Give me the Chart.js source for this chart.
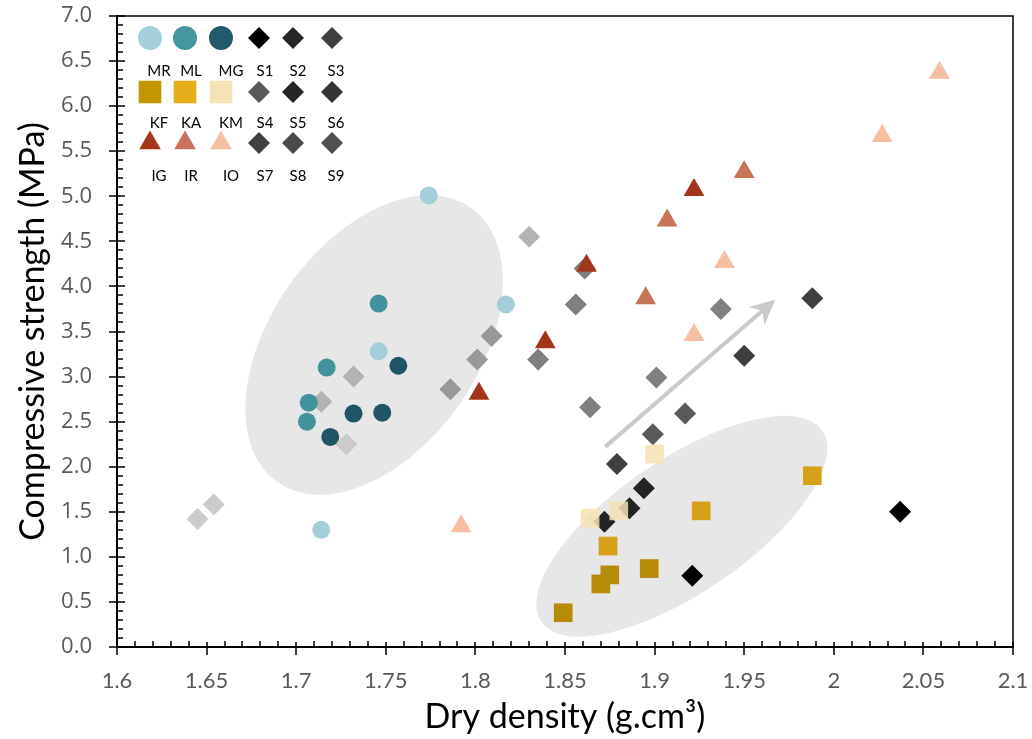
<!DOCTYPE html>
<html>
<head>
<meta charset="utf-8">
<script src="https://cdn.jsdelivr.net/npm/chart.js@4.4.0/dist/chart.umd.min.js"></script>
<style>
  html, body { margin: 0; padding: 0; background: #fff; }
  #wrap { width: 1032px; height: 739px; }
</style>
</head>
<body>
<div id="wrap"><canvas id="chart" width="1032" height="739"></canvas></div>
<script>
// values: [dry density (g.cm3), compressive strength (MPa)]
const MR = [[1.774, 5.01], [1.817, 3.80], [1.746, 3.28], [1.714, 1.30]];
const ML = [[1.746, 3.81], [1.717, 3.10], [1.707, 2.71], [1.706, 2.50]];
const MG = [[1.757, 3.12], [1.732, 2.59], [1.748, 2.60], [1.719, 2.33]];
const KF = [[1.875, 0.80], [1.870, 0.70], [1.897, 0.87], [1.849, 0.38]];
const KA = [[1.988, 1.90], [1.926, 1.51], [1.874, 1.12]];
const KM = [[1.900, 2.14], [1.864, 1.43], [1.880, 1.51]];
const IG = [[1.922, 5.07], [1.862, 4.23], [1.839, 3.38], [1.802, 2.81]];
const IR = [[1.950, 5.27], [1.907, 4.73], [1.895, 3.87]];
const IO = [[2.059, 6.37], [2.027, 5.67], [1.939, 4.27], [1.922, 3.46], [1.792, 1.34]];
const S1 = [[1.921, 0.79], [2.037, 1.50]];
const S2 = [[1.894, 1.76], [1.886, 1.54], [1.872, 1.39]];
const S3 = [[1.879, 2.03], [1.950, 3.23], [1.988, 3.87]];
const S4 = [[1.899, 2.36], [1.917, 2.59]];
const S5 = [[1.835, 3.19], [1.856, 3.80], [1.861, 4.20]];
const S6 = [[1.864, 2.66], [1.901, 2.99], [1.937, 3.75]];
const S7 = [[1.786, 2.86], [1.801, 3.19], [1.809, 3.45]];
const S8 = [[1.714, 2.72], [1.732, 3.00], [1.830, 4.55]];
const S9 = [[1.645, 1.42], [1.654, 1.58], [1.728, 2.25]];

const seriesNames = ['MR', 'ML', 'MG', 'KF', 'KA', 'KM', 'IG', 'IR', 'IO',
  'S1', 'S2', 'S3', 'S4', 'S5', 'S6', 'S7', 'S8', 'S9'];
const seriesData = [MR, ML, MG, KF, KA, KM, IG, IR, IO, S1, S2, S3, S4, S5, S6, S7, S8, S9];

const xTickLabels = ['1.6', '1.65', '1.7', '1.75', '1.8', '1.85', '1.9', '1.95', '2', '2.05', '2.1'];
const yTickLabels = ['0.0', '0.5', '1.0', '1.5', '2.0', '2.5', '3.0', '3.5', '4.0', '4.5', '5.0', '5.5', '6.0', '6.5', '7.0'];

// marker styles
const plotColors = ['#a3cfd8', '#43939c', '#1f5565', '#b68b09', '#d6a019', 'rgba(245,226,178,0.85)',
  '#a1361a', '#c87456', '#f7bea2',
  '#000000', '#232323', '#3f3f3f', '#5a5a5a', '#7f7f7f', '#808080', '#999999', '#b3b3b3', '#cbcbcb'];
const legendColors = ['#a3cfd8', '#44969f', '#22596b', '#c39506', '#e8ad1c', '#f5e3b6',
  '#a3371a', '#c8735a', '#f6bfa3',
  '#000000', '#262626', '#404040', '#595959', '#262626', '#333333', '#404040', '#4a4a4a', '#505050'];
const shapes = ['circle', 'circle', 'circle', 'rect', 'rect', 'rect', 'triangle', 'triangle', 'triangle',
  'rectRot', 'rectRot', 'rectRot', 'rectRot', 'rectRot', 'rectRot', 'rectRot', 'rectRot', 'rectRot'];
const plotRadius = { circle: 9, rect: 13.2, triangle: 12, rectRot: 11 };
const legendRadius = { circle: 12, rect: 16, triangle: 12.5, rectRot: 11 };

// background ellipses (centre in data units, radii in px, tilt in degrees) and trend arrow
const ellipses = [
  { cx: 1.7435, cy: 3.35, rx: 168, ry: 104, tilt: 54.8 },
  { cx: 1.9152, cy: 1.34, rx: 170, ry: 67, tilt: 34.2 }
];
const arrow = { from: [1.8724, 2.22], to: [1.9674, 3.853] };

const datasets = seriesData.map((pts, i) => ({
  label: seriesNames[i],
  data: pts.map(p => ({ x: p[0], y: p[1] })),
  pointStyle: shapes[i],
  pointRadius: plotRadius[shapes[i]],
  backgroundColor: plotColors[i],
  borderWidth: 0,
  pointBorderWidth: 0
}));

const backdrop = {
  id: 'backdrop',
  beforeDatasetsDraw(chart) {
    const { ctx, chartArea, scales: { x, y } } = chart;
    ctx.save();
    ctx.beginPath();
    ctx.rect(chartArea.left, chartArea.top, chartArea.width, chartArea.height);
    ctx.clip();
    ctx.fillStyle = '#e7e7e7';
    ellipses.forEach(e => {
      ctx.beginPath();
      ctx.ellipse(x.getPixelForValue(e.cx), y.getPixelForValue(e.cy), e.rx, e.ry,
        -e.tilt * Math.PI / 180, 0, Math.PI * 2);
      ctx.fill();
    });
    // arrow
    const x0 = x.getPixelForValue(arrow.from[0]), y0 = y.getPixelForValue(arrow.from[1]);
    const x1 = x.getPixelForValue(arrow.to[0]), y1 = y.getPixelForValue(arrow.to[1]);
    const len = Math.hypot(x1 - x0, y1 - y0);
    const ux = (x1 - x0) / len, uy = (y1 - y0) / len;
    const nx = -uy, ny = ux;
    ctx.strokeStyle = '#c9c9c9';
    ctx.fillStyle = '#c9c9c9';
    ctx.lineWidth = 4;
    ctx.beginPath();
    ctx.moveTo(x0, y0);
    ctx.lineTo(x1 - ux * 14, y1 - uy * 14);
    ctx.stroke();
    ctx.beginPath();
    ctx.moveTo(x1, y1);
    ctx.lineTo(x1 - ux * 25 + nx * 12, y1 - uy * 25 + ny * 12);
    ctx.lineTo(x1 - ux * 17, y1 - uy * 17);
    ctx.lineTo(x1 - ux * 25 - nx * 12, y1 - uy * 25 - ny * 12);
    ctx.closePath();
    ctx.fill();
    ctx.restore();
  }
};

const frame = {
  id: 'frame',
  afterDraw(chart) {
    const { ctx, chartArea: a, scales: { x, y } } = chart;
    ctx.save();
    ctx.strokeStyle = '#000';
    ctx.lineWidth = 1.5;
    ctx.beginPath();
    ctx.moveTo(a.left, a.top);
    ctx.lineTo(a.right, a.top);
    ctx.lineTo(a.right, a.bottom);
    ctx.stroke();
    ctx.beginPath();
    // x ticks: majors cross the axis, minors inside
    for (let i = 0; i <= 50; i++) {
      const px = Math.round(x.getPixelForValue(1.6 + i * 0.01));
      if (i % 5 === 0) { ctx.moveTo(px, a.bottom - 5); ctx.lineTo(px, a.bottom + 8); }
      else { ctx.moveTo(px, a.bottom); ctx.lineTo(px, a.bottom - 6); }
    }
    for (let i = 0; i <= 70; i++) {
      const py = Math.round(y.getPixelForValue(i * 0.1));
      if (i % 5 === 0) { ctx.moveTo(a.left - 8, py); ctx.lineTo(a.left + 8, py); }
      else { ctx.moveTo(a.left, py); ctx.lineTo(a.left + 6, py); }
    }
    ctx.stroke();
    ctx.restore();
  }
};

const cornerLegend = {
  id: 'cornerLegend',
  afterDraw(chart) {
    const { ctx } = chart;
    const markX = [150, 185, 221, 259, 293, 332];
    const markY = [38, 92, 143];
    const textX = [159, 191, 231, 265, 298, 336];
    const textY = [71, 123, 176];
    const rows = [[0, 1, 2, 9, 10, 11], [3, 4, 5, 12, 13, 14], [6, 7, 8, 15, 16, 17]];
    ctx.save();
    ctx.font = '15px Lato, sans-serif';
    ctx.textAlign = 'center';
    ctx.textBaseline = 'middle';
    rows.forEach((row, r) => {
      row.forEach((s, c) => {
        ctx.fillStyle = legendColors[s];
        ctx.strokeStyle = legendColors[s];
        Chart.helpers.drawPoint(ctx, {
          pointStyle: shapes[s], radius: legendRadius[shapes[s]], rotation: 0, borderWidth: 0
        }, markX[c], markY[r]);
        ctx.fillStyle = '#000';
        ctx.fillText(seriesNames[s], textX[c], textY[r]);
      });
    });
    ctx.restore();
  }
};

new Chart(document.getElementById('chart'), {
  type: 'scatter',
  data: { datasets },
  options: {
    responsive: false,
    devicePixelRatio: 1,
    animation: false,
    events: [],
    layout: { autoPadding: false, padding: { left: 0, top: 16, right: 19, bottom: 0 } },
    plugins: { legend: { display: false }, tooltip: { enabled: false } },
    scales: {
      x: {
        type: 'linear',
        min: 1.6,
        max: 2.1,
        afterFit: s => { s.height = 92; s.paddingLeft = 0; s.paddingRight = 0; },
        ticks: {
          stepSize: 0.05,
          padding: 21,
          color: '#595959',
          font: { family: 'Lato', size: 22 },
          maxRotation: 0,
          callback: (v, i) => xTickLabels[i]
        },
        grid: { display: false, drawTicks: false },
        border: { display: true, color: '#000', width: 2 },
        title: {
          display: true,
          text: 'Dry density (g.cm³)',
          color: '#000',
          font: { family: 'Lato', size: 34 },
          padding: { top: 0, bottom: 2 }
        }
      },
      y: {
        type: 'linear',
        min: 0,
        max: 7,
        afterFit: s => { s.width = 117; s.paddingTop = 0; s.paddingBottom = 0; },
        ticks: {
          stepSize: 0.5,
          padding: 25,
          color: '#595959',
          font: { family: 'Open Sans', size: 22 },
          callback: (v, i) => yTickLabels[i]
        },
        grid: { display: false, drawTicks: false },
        border: { display: true, color: '#000', width: 2 },
        title: {
          display: true,
          text: 'Compressive strength (MPa)',
          color: '#000',
          font: { family: 'Lato', size: 34 },
          padding: { top: 13, bottom: 0 }
        }
      }
    }
  },
  plugins: [backdrop, frame, cornerLegend]
});
</script>
</body>
</html>
